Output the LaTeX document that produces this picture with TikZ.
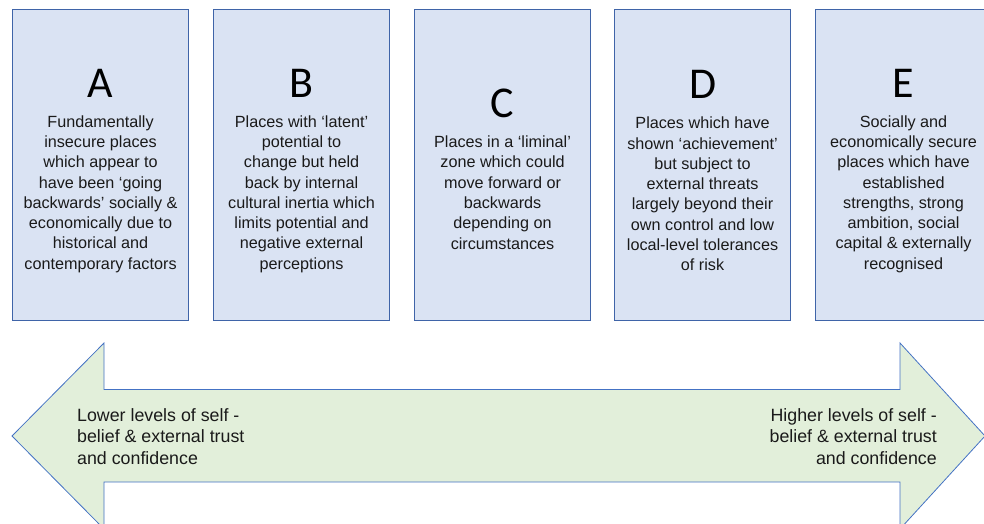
\documentclass[tikz,border=0pt]{standalone}
\usepackage{fontspec}
\setmainfont{Liberation Sans}
\newfontfamily\letfont{Carlito}
\usetikzlibrary{calc}
\definecolor{boxfill}{HTML}{DAE3F3}
\definecolor{boxline}{HTML}{3F64A8}
\definecolor{arrfill}{HTML}{E2EFDA}
\definecolor{arrline}{HTML}{4472C4}
\definecolor{txtcol}{HTML}{1A1A1A}
\tikzset{
  card/.style={draw=boxline, line width=1.1pt, fill=boxfill, minimum width=176pt, minimum height=311pt, inner sep=0pt, anchor=north west},
  desc/.style={align=center, inner sep=0pt, text=txtcol, font=\fontsize{16.2pt}{20.3pt}\selectfont},
  bigletter/.style={inner sep=0pt, anchor=base, text=black, font=\letfont\fontsize{44pt}{46pt}\selectfont},
  scaletext/.style={inner sep=0pt, text=txtcol, font=\fontsize{17.8pt}{21.7pt}\selectfont},
  bigarrow/.style={draw=arrline, line width=0.8pt, fill=arrfill, line join=miter}
}
\begin{document}
\begin{tikzpicture}[x=1pt,y=-1pt]
\useasboundingbox (0,0) rectangle (984,524);
\clip (0,0) rectangle (984,524);
% boxes
\node[card] (bA) at (12,9) {};
\node[card] (bB) at (213,9) {};
\node[card] (bC) at (414,9) {};
\node[card] (bD) at (614,9) {};
\node[card] (bE) at (815,9) {};
% texts
\node[desc] (tA) at ($(bA.north)+(0,185)$) {Fundamentally\\insecure places\\which appear to\\have been ‘going\\backwards’ socially \&\\economically due to\\historical and\\contemporary factors};
\node[desc] (tB) at ($(bB.north)+(0,185)$) {Places with ‘latent’\\potential to\\change but held\\back by internal\\cultural inertia which\\limits potential and\\negative external\\perceptions};
\node[desc] (tC) at ($(bC.north)+(0,183.5)$) {Places in a ‘liminal’\\zone which could\\move forward or\\backwards\\depending on\\circumstances};
\node[desc] (tD) at ($(bD.north)+(0,185)$) {Places which have\\shown ‘achievement’\\but subject to\\external threats\\largely beyond their\\own control and low\\local-level tolerances\\of risk};
\node[desc] (tE) at ($(bE.north)+(0,185)$) {Socially and\\economically secure\\places which have\\established\\strengths, strong\\ambition, social\\capital \& externally\\recognised};
% letters
\node[bigletter] (lA) at ([yshift=18pt]tA.north) {A};
\node[bigletter] (lB) at ([yshift=18pt]tB.north) {B};
\node[bigletter] (lC) at ([yshift=18pt]tC.north) {C};
\node[bigletter] (lD) at ([yshift=18pt]tD.north) {D};
\node[bigletter] (lE) at ([yshift=18pt]tE.north) {E};
% double arrow
\coordinate (ltip) at (12,436);
\coordinate (rtip) at (985,436);
\draw[bigarrow] (ltip) -- (104,343) -- (104,389.5) -- (900,389.5) -- (900,343) -- (rtip)
  -- (900,529) -- (900,482) -- (104,482) -- (104,529) -- cycle;
\node[scaletext, align=left, anchor=north west] (lowtxt) at (77,408) {Lower levels of self -\\belief \& external trust\\and confidence};
\node[scaletext, align=right, anchor=north east] (hightxt) at (937,408) {Higher levels of self -\\belief \& external trust\\and confidence};
\end{tikzpicture}
\end{document}
